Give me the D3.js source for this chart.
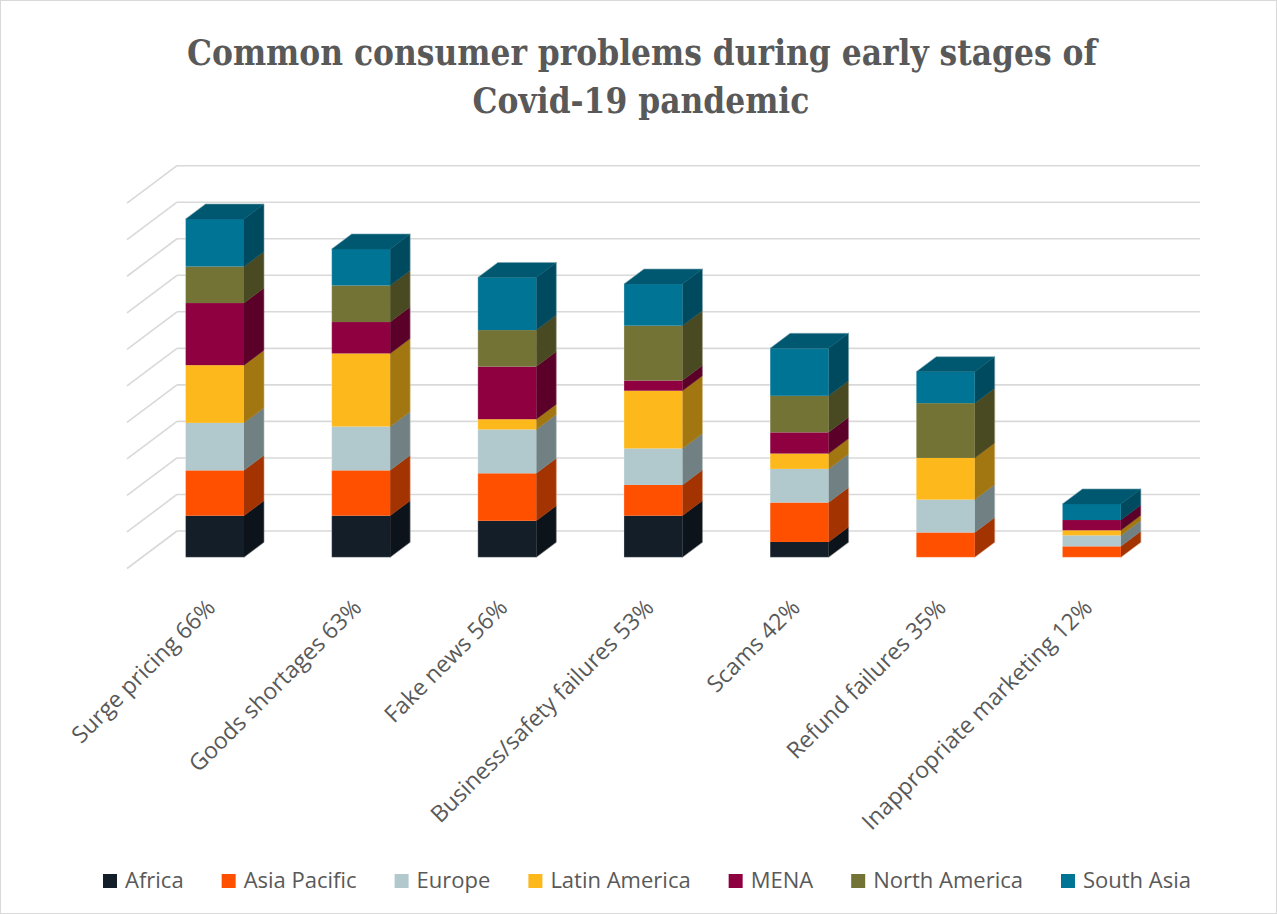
<!DOCTYPE html>
<html>
<head>
<meta charset="utf-8">
<script src="https://cdn.jsdelivr.net/npm/d3@7"></script>
<style>
  html, body { margin: 0; padding: 0; background: #ffffff; }
  svg { display: block; }
</style>
</head>
<body>
<script>
// ---------------- DATA ----------------
const categories = [
  "Surge pricing 66%",
  "Goods shortages 63%",
  "Fake news 56%",
  "Business/safety failures 53%",
  "Scams 42%",
  "Refund failures 35%",
  "Inappropriate marketing 12%"
];
const seriesNames = ["Africa", "Asia Pacific", "Europe", "Latin America", "MENA", "North America", "South Asia"];
const africa       = [57, 57, 50, 57, 21,  0,  0];
const asiaPacific  = [62, 62, 65, 42, 54, 34, 15];
const europe       = [65, 60, 60, 50, 46, 45, 15];
const latinAmerica = [79, 100, 14, 79, 21, 57, 7];
const mena         = [85, 43, 72, 14, 29,  0, 14];
const northAmerica = [50, 50, 50, 75, 50, 75,  0];
const southAsia    = [65, 50, 72, 57, 65, 43, 22];
const seriesValues = [africa, asiaPacific, europe, latinAmerica, mena, northAmerica, southAsia];
const seriesColors = ["#141E28", "#FF5000", "#B1C9CD", "#FDB81B", "#8E0040", "#737335", "#007494"];
const yTicks = [0, 50, 100, 150, 200, 250, 300, 350, 400, 450, 500];
const titleLines = ["Common consumer problems during early stages of", "Covid-19 pandemic"];

// ---------------- LAYOUT ----------------
const W = 1277, H = 914;
const svg = d3.select("body").append("svg").attr("width", W).attr("height", H);

svg.append("rect").attr("x", 0.5).attr("y", 0.5).attr("width", W - 1).attr("height", H - 1)
  .attr("fill", "#fff").attr("stroke", "#d9d9d9").attr("stroke-width", 1);

// back wall scales
const x = d3.scaleBand().domain(categories).range([177, 1200]).paddingInner(0).paddingOuter(0);
const y = d3.scaleLinear().domain([0, 500]).range([531, 165.7]);

// 3D offsets
const wallDepth = { dx: 50, dy: -37.5 };     // front floor edge -> back wall
const barFront = { dx: -35.3, dy: 26.3 };    // back wall -> bar front plane
const barDepth = { dx: 20, dy: -15 };        // bar front -> bar back
const barW = x.bandwidth() * 0.4;

function shade(c, k) {
  const r = d3.rgb(c);
  return d3.rgb(r.r * k, r.g * k, r.b * k).formatHex();
}

// gridlines (back wall + left side wall)
const grid = svg.append("g");
yTicks.forEach(t => {
  const yy = y(t);
  grid.append("line").attr("x1", x.range()[0]).attr("x2", x.range()[1])
    .attr("y1", yy).attr("y2", yy)
    .attr("stroke", "#d9d9d9").attr("stroke-width", 1.6);
  grid.append("line").attr("x1", x.range()[0]).attr("y1", yy)
    .attr("x2", x.range()[0] - wallDepth.dx).attr("y2", yy - wallDepth.dy)
    .attr("stroke", "#d9d9d9").attr("stroke-width", 1.6);
});

// stacked data
const stacked = categories.map((c, i) => {
  let acc = 0;
  return seriesNames.map((s, j) => {
    const v = seriesValues[j][i];
    const seg = { cat: c, series: j, y0: acc, y1: acc + v, v };
    acc += v;
    return seg;
  });
});

const bars = svg.append("g");
stacked.forEach((segs, i) => {
  const cat = categories[i];
  const fx = x(cat) + x.bandwidth() / 2 - barW / 2 + barFront.dx;
  const g = bars.append("g");
  const nonzero = segs.filter(s => s.v > 0);
  nonzero.forEach(s => {
    const yb = y(s.y0) + barFront.dy;
    const yt = y(s.y1) + barFront.dy;
    const col = seriesColors[s.series];
    const side = [
      [fx + barW, yb], [fx + barW, yt],
      [fx + barW + barDepth.dx, yt + barDepth.dy], [fx + barW + barDepth.dx, yb + barDepth.dy]
    ];
    g.append("path").attr("d", "M" + side.join("L") + "Z")
      .attr("fill", shade(col, 0.64)).attr("stroke", shade(col, 0.64)).attr("stroke-width", 0.4);
    g.append("rect").attr("x", fx).attr("y", yt).attr("width", barW).attr("height", yb - yt)
      .attr("fill", col);
  });
  const topSeg = nonzero[nonzero.length - 1];
  const yt = y(topSeg.y1) + barFront.dy;
  const topCol = seriesColors[topSeg.series];
  const top = [
    [fx, yt], [fx + barW, yt],
    [fx + barW + barDepth.dx, yt + barDepth.dy], [fx + barDepth.dx, yt + barDepth.dy]
  ];
  g.append("path").attr("d", "M" + top.join("L") + "Z")
    .attr("fill", shade(topCol, 0.76)).attr("stroke", shade(topCol, 0.76)).attr("stroke-width", 0.4);
  const yb0 = y(0) + barFront.dy;
  const outline = [
    [fx, yb0], [fx, yt], [fx + barDepth.dx, yt + barDepth.dy],
    [fx + barW + barDepth.dx, yt + barDepth.dy], [fx + barW + barDepth.dx, yb0 + barDepth.dy],
    [fx + barW, yb0]
  ];
  g.append("path").attr("d", "M" + outline.join("L") + "Z")
    .attr("fill", "none").attr("stroke", "#ffffff").attr("stroke-opacity", 0.35).attr("stroke-width", 0.8);
});

// category labels
const labels = svg.append("g");
categories.forEach(c => {
  const cx = x(c) + x.bandwidth() / 2 + barFront.dx;
  const ax = cx + 2, ay = 609;
  labels.append("text")
    .attr("transform", `translate(${ax},${ay}) rotate(-45)`)
    .attr("text-anchor", "end")
    .attr("font-family", "'Open Sans', sans-serif")
    .attr("font-size", 23)
    .attr("fill", "#595959")
    .text(c);
});

// title
const titleG = svg.append("g");
const titleY = [65, 113];
const t1 = titleG.append("text").attr("x", 642).attr("y", titleY[0]).attr("text-anchor", "middle")
  .attr("font-family", "'DejaVu Serif', serif").attr("font-weight", "bold")
  .attr("font-size", 35).attr("fill", "#595959").text(titleLines[0]);
const w1 = t1.node().getComputedTextLength();
const target1 = 910;
t1.attr("textLength", target1).attr("lengthAdjust", "spacingAndGlyphs");
const t2 = titleG.append("text").attr("x", 641).attr("y", titleY[1]).attr("text-anchor", "middle")
  .attr("font-family", "'DejaVu Serif', serif").attr("font-weight", "bold")
  .attr("font-size", 35).attr("fill", "#595959").text(titleLines[1]);
const w2 = t2.node().getComputedTextLength();
t2.attr("textLength", w2 * target1 / w1).attr("lengthAdjust", "spacingAndGlyphs");

// legend
const legend = svg.append("g");
const items = seriesNames.map((s, j) => {
  const gi = legend.append("g");
  gi.append("rect").attr("width", 14).attr("height", 14).attr("y", -14).attr("fill", seriesColors[j]);
  const tx = gi.append("text").attr("x", 22).attr("y", 0)
    .attr("font-family", "'Open Sans', sans-serif").attr("font-size", 22)
    .attr("fill", "#595959").text(s);
  return { g: gi, w: 22 + tx.node().getComputedTextLength() };
});
const legendLeft = 103, legendRight = 1191;
const totalW = d3.sum(items, d => d.w);
const gap = (legendRight - legendLeft - totalW) / (items.length - 1);
let lx = legendLeft;
items.forEach(it => {
  it.g.attr("transform", `translate(${lx},888)`);
  lx += it.w + gap;
});
</script>
</body>
</html>
